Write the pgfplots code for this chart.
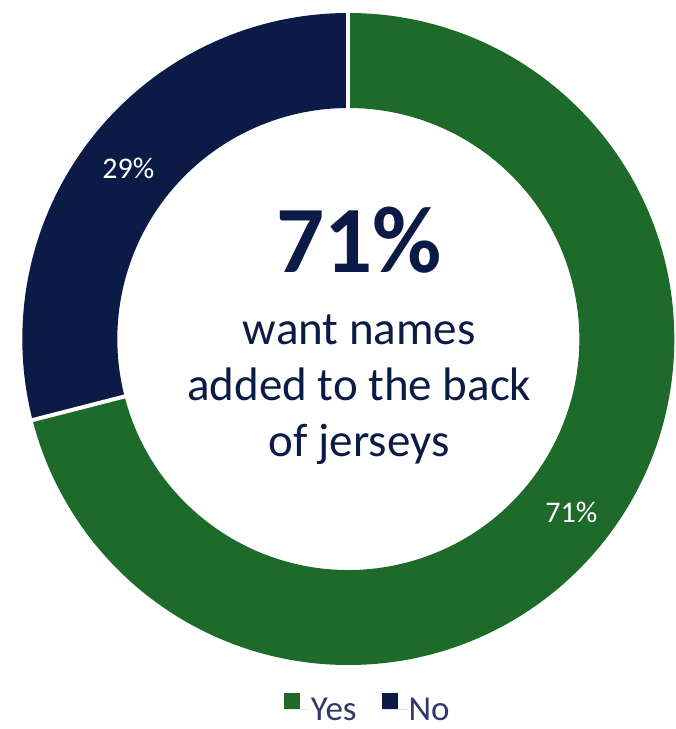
\documentclass[border=0pt]{standalone}
\usepackage{pgfplots}
\pgfplotsset{compat=1.18}
\usepackage{pgfplotstable}
\usepackage{fontspec}
\setmainfont{Carlito}
\definecolor{yescol}{HTML}{1D6A2B}
\definecolor{nocol}{HTML}{0C1B45}
\definecolor{legtext}{HTML}{35356A}
\pgfplotstableread{
label value
Yes 71
No 29
}\donutdata
\begin{document}
\pgfplotstablegetelem{0}{value}\of\donutdata
\pgfmathsetmacro\yesval{\pgfplotsretval}
\pgfplotstablegetelem{1}{value}\of\donutdata
\pgfmathsetmacro\noval{\pgfplotsretval}
\pgfmathsetmacro\total{\yesval+\noval}
\pgfmathsetmacro\splitang{90-(\yesval/\total)*360}
\pgfmathsetmacro\splitangb{\splitang+360}
\begin{tikzpicture}
\useasboundingbox (0,0) rectangle (664pt,729pt);
\begin{axis}[at={(0,0)}, anchor=south west, scale only axis,
  width=664pt, height=729pt, xmin=0, xmax=664, ymin=0, ymax=729,
  hide axis, clip=false,
  legend style={draw=none, fill=none, inner sep=0pt, font=\fontsize{35}{40}\selectfont, text=legtext,
    at={(axis cs:356,7)}, anchor=south, legend columns=2,
    nodes={inner sep=1pt, text depth=0pt},
    /tikz/every even column/.append style={column sep=24pt}},
  legend image code/.code={\fill[#1] (0pt,1pt) rectangle (16pt,17pt); \path (0pt,0pt) -- (26pt,0pt);},
]
\addlegendimage{fill=yescol, draw=none}
\addlegendentry{Yes}
\addlegendimage{fill=nocol, draw=none}
\addlegendentry{No}
% Yes wedge
\fill[yescol] (axis cs:337,390) ++(90:326pt) arc[start angle=90, end angle=\splitang, radius=326pt]
  -- ++(\splitang+180:95pt) arc[start angle=\splitang, end angle=90, radius=231pt] -- cycle;
% No wedge
\fill[nocol] (axis cs:337,390) ++(90:326pt) arc[start angle=90, end angle=\splitangb, radius=326pt]
  -- ++(\splitangb+180:95pt) arc[start angle=\splitangb, end angle=90, radius=231pt] -- cycle;
% separators
\draw[white, line width=4pt] (axis cs:337,390) ++(90:228pt) -- ++(90:101pt);
\draw[white, line width=4pt] (axis cs:337,390) ++(\splitang:228pt) -- ++(\splitang:101pt);
% center text
\node[anchor=base, text=nocol, font=\bfseries\fontsize{95}{100}\selectfont, inner sep=0pt] at (axis cs:348,456) {71\%};
\node[anchor=base, text=nocol, font=\fontsize{47}{56}\selectfont, inner sep=0pt] at (axis cs:348,384) {want names};
\node[anchor=base, text=nocol, font=\fontsize{47}{56}\selectfont, inner sep=0pt] at (axis cs:348,328) {added to the back};
\node[anchor=base, text=nocol, font=\fontsize{47}{56}\selectfont, inner sep=0pt] at (axis cs:348,272) {of jerseys};
% data labels
\node[text=white, font=\fontsize{30}{36}\selectfont, inner sep=0pt] at (axis cs:117,561) {29\%};
\node[text=white, font=\fontsize{30}{36}\selectfont, inner sep=0pt] at (axis cs:560,217) {71\%};
\end{axis}
\end{tikzpicture}
\end{document}
